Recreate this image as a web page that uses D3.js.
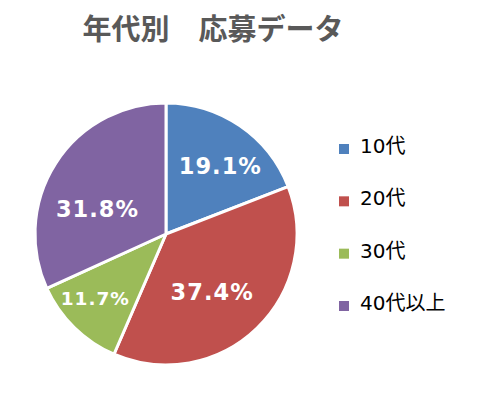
<!DOCTYPE html>
<html><head><meta charset="utf-8">
<script src="https://cdn.jsdelivr.net/npm/d3@7"></script>
<style>body{margin:0;background:#fff}</style>
</head><body>
<script>
const categories = ["10代", "20代", "30代", "40代以上"];
const values = [19.1, 37.4, 11.7, 31.8];
const colors = ["#4F81BD", "#C0504D", "#9BBB59", "#8064A2"];
const title = "年代別　応募データ";
// layout nudges for data labels (best-fit placement)
const labelNudge = [[7, 1], [-12, -3], [-12, 4], [2, 20]];

const W = 477, H = 397;
const svg = d3.select("body").append("svg").attr("width", W).attr("height", H);
const cx = 166, cy = 234, R = 131;

svg.append("text").attr("x", 213).attr("y", 40).attr("text-anchor", "middle")
  .attr("font-family", "'Noto Sans CJK JP', sans-serif").attr("font-weight", "bold")
  .attr("font-size", 29).attr("fill", "#595959").text(title);

const pie = d3.pie().sort(null).value(d => d)(values);
const arc = d3.arc().innerRadius(0).outerRadius(R);
const labelArc = d3.arc().innerRadius(R * 0.64).outerRadius(R * 0.64);
const g = svg.append("g").attr("transform", `translate(${cx},${cy})`);
g.selectAll("path").data(pie).join("path")
  .attr("d", arc).attr("fill", (d, i) => colors[i])
  .attr("stroke", "#fff").attr("stroke-width", 3).attr("stroke-linejoin", "round");

g.selectAll("text").data(pie).join("text")
  .attr("transform", (d, i) => {
    const c = labelArc.centroid(d);
    return `translate(${c[0] + labelNudge[i][0]},${c[1] + labelNudge[i][1]})`;
  })
  .attr("text-anchor", "middle").attr("dy", "0.36em")
  .attr("font-family", "'DejaVu Sans', sans-serif").attr("font-weight", "bold")
  .attr("font-size", (d, i) => values[i] < 15 ? 18.5 : 22.5)
  .attr("letter-spacing", 1)
  .attr("fill", "#fff").text(d => d.data.toFixed(1) + "%");

const y = d3.scalePoint().domain(categories).range([153, 310]);
const lg = svg.append("g");
const items = lg.selectAll("g").data(categories).join("g")
  .attr("transform", d => `translate(0,${y(d)})`);
items.append("rect").attr("x", 339).attr("y", -9).attr("width", 10).attr("height", 10)
  .attr("fill", (d, i) => colors[i]);
items.append("text").attr("x", 360).attr("y", 0)
  .attr("font-family", "'DejaVu Sans', 'Noto Sans CJK JP', sans-serif")
  .attr("font-size", 20).attr("fill", "#000").text(d => d);
</script>
</body></html>
